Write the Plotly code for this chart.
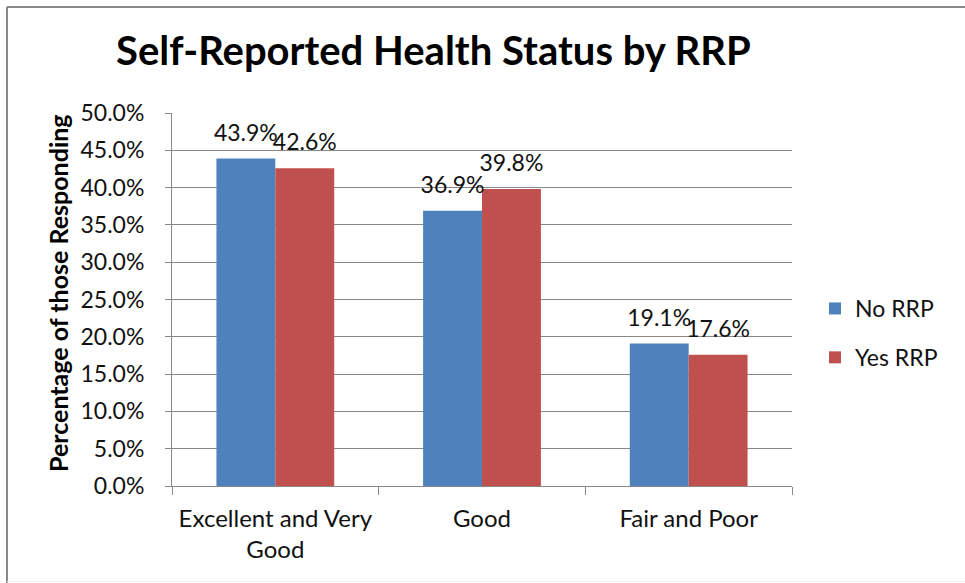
import plotly.graph_objects as go

categories = ["Excellent and Very<br>Good", "Good", "Fair and Poor"]
no_rrp = [43.9, 36.9, 19.1]
yes_rrp = [42.6, 39.8, 17.6]
y_ticks = [0, 5, 10, 15, 20, 25, 30, 35, 40, 45, 50]

FONT = "Lato, 'Open Sans', sans-serif"
W, H = 965, 583
L, R, T, B = 172, 173, 113, 97
PW, PH = W - L - R, H - T - B


def px(x):
    return (x - L) / PW


def py(y):
    return (H - B - y) / PH


fig = go.Figure()
series = [("No RRP", no_rrp, "#4F81BD"), ("Yes RRP", yes_rrp, "#C0504D")]
for name, vals, color in series:
    fig.add_trace(go.Bar(
        x=categories, y=vals, name=name, legendgroup=name, offsetgroup=name,
        marker=dict(color=color, line=dict(width=0)),
    ))
for name, vals, color in series:
    fig.add_trace(go.Scatter(
        x=categories, y=vals, mode="markers+text", offsetgroup=name, showlegend=False,
        marker=dict(size=18, opacity=0),
        text=[f"{v:.1f}%" for v in vals], textposition="top center",
        textfont=dict(size=23, color="#111", family=FONT), cliponaxis=False,
        hoverinfo="skip",
    ))

fig.update_layout(
    width=W, height=H,
    margin=dict(l=L, r=R, t=T, b=B),
    paper_bgcolor="white", plot_bgcolor="white",
    barmode="group", bargap=0.43, bargroupgap=0,
    scattermode="group", scattergap=0.43,
    font=dict(family=FONT, size=23, color="#111"),
    showlegend=True,
    legend=dict(x=px(815), y=py(333), xanchor="left", yanchor="middle",
                font=dict(size=23, family=FONT), itemwidth=30,
                traceorder="grouped", tracegroupgap=16),
    xaxis=dict(showline=True, linecolor="#888", linewidth=1, ticks="outside",
               ticklen=8, tickcolor="#888", tickson="boundaries",
               ticklabelstandoff=11,
               tickfont=dict(size=24, family=FONT)),
    yaxis=dict(range=[0, 50], tickvals=y_ticks, ticktext=[f"{t:.1f}%" for t in y_ticks],
               showgrid=True, gridcolor="#888", gridwidth=1, showline=True,
               linecolor="#888", ticks="outside", ticklen=6, tickcolor="#888",
               ticklabelstandoff=16,
               zeroline=False, tickfont=dict(size=23, family=FONT)),
    annotations=[
        dict(text="<b>Self-Reported Health Status by RRP</b>", x=px(433), y=py(50),
             xref="paper", yref="paper", showarrow=False, xanchor="center", yanchor="middle",
             font=dict(size=40, family=FONT, color="#000")),
        dict(text="<b>Percentage of those Responding</b>", x=px(58), y=py(293),
             xref="paper", yref="paper", showarrow=False, xanchor="center", yanchor="middle",
             textangle=-90, font=dict(size=25, family=FONT, color="#000")),
    ],
)

fig.add_shape(type="line", xref="paper", yref="paper",
              x0=px(7), x1=px(7), y0=py(7), y1=py(583), line=dict(color="#888", width=2))
fig.add_shape(type="line", xref="paper", yref="paper",
              x0=px(7), x1=px(965), y0=py(7), y1=py(7), line=dict(color="#888", width=2))
fig.add_shape(type="line", xref="paper", yref="paper",
              x0=px(7), x1=px(965), y0=py(581.5), y1=py(581.5), line=dict(color="#eeeeee", width=1))

fig.write_html("out.html", config={"displayModeBar": False},
               post_script="document.body.style.margin='0px';document.body.style.overflow='hidden';")
